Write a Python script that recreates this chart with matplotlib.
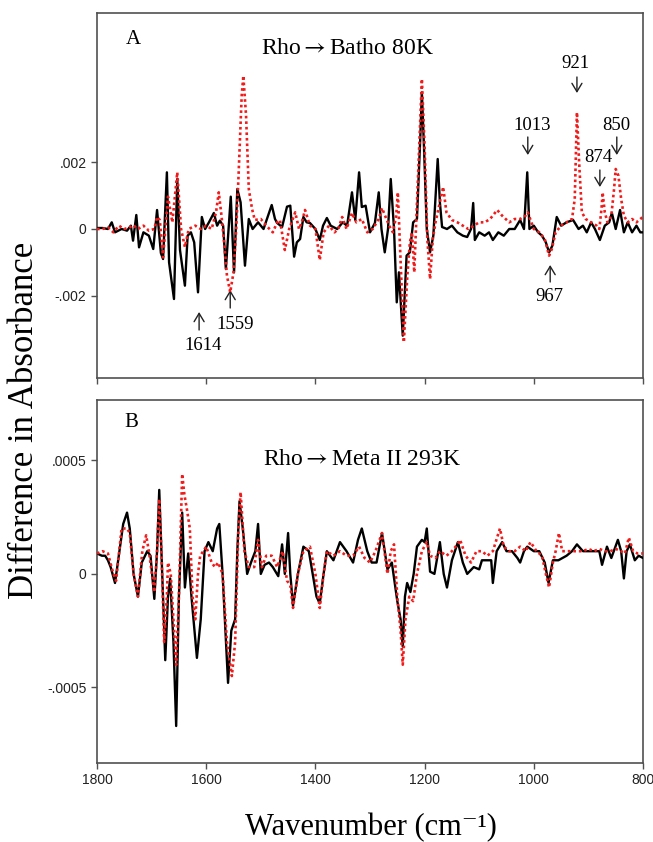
import matplotlib
matplotlib.use("Agg")
import matplotlib.pyplot as plt

plt.rcParams["mathtext.fontset"] = "stix"

# ---------------- Data ----------------
A_black_wn = [1800,1790,1780,1773,1767,1755,1745,1738,1734,1728,1723,1715,1705,1697,1690,1683,1679,1672,1668,1659,
              1653,1648,1639,1634,1628,1622,1615,1608,1602,1595,1586,1580,1575,1569,1564,1555,1549,1543,1537,1529,
              1522,1515,1505,1495,1480,1474,1470,1461,1452,1446,1439,1434,1428,1422,1416,1410,1400,1392,1386,1379,
              1372,1360,1350,1342,1333,1327,1320,1315,1308,1300,1291,1284,1279,1273,1267,1262,1256,1251,1247,1240,
              1233,1227,1221,1214,1208,1205,1201,1196,1190,1184,1176,1172,1168,1159,1150,1140,1130,1122,1115,1111,
              1108,1100,1090,1082,1075,1065,1055,1045,1035,1025,1018,1012,1008,1000,992,985,978,972,966,958,
              950,940,928,918,910,903,895,888,879,870,862,857,850,842,835,828,820,812,805,800]
A_black_val = [0.00003,0.00003,0.0,0.0002,-0.0001,0.0,-0.00005,0.0001,-0.00035,0.00042,-0.00055,-0.0001,-0.0002,-0.0006,0.00057,-0.00072,-0.0009,0.0017,-0.001,-0.0021,
               0.0015,-0.00063,-0.0017,-0.0002,-0.0001,-0.0004,-0.0019,0.00036,0.0,0.0002,0.00048,0.0001,0.00025,0.0001,-0.0012,0.00097,-0.0013,0.0012,0.0008,-0.0011,
               0.0003,0.0,0.0002,0.0,0.00072,0.0003,0.00018,0.00006,0.00067,0.0007,-0.00083,-0.0004,-0.0003,0.00036,0.0002,0.00018,0.0,-0.00033,0.0001,0.00033,
               0.0001,0.0,0.0002,0.0001,0.0011,0.00027,0.0017,0.00066,0.0007,-0.0001,0.00018,0.0011,0.0,-0.0007,0.0,0.0015,0.0,-0.0022,-0.0013,-0.0032,
               -0.0008,-0.0007,0.0002,0.0003,0.0027,0.0041,0.0024,0.0,-0.0007,-0.0002,0.0021,0.0008,0.00006,0.0,0.0001,-0.0001,-0.0002,-0.00024,0.0,0.00078,
               -0.00033,-0.0001,-0.0002,-0.0001,-0.00033,-0.0001,-0.0002,0.0,0.0,0.00027,0.0,0.0017,0.0,0.0001,-0.0001,-0.0002,-0.0004,-0.0007,-0.0005,0.00036,
               0.0001,0.0002,0.00027,0.0,0.0001,-0.0001,0.0002,0.0,-0.00033,0.0001,0.0002,0.00048,0.0,0.00057,-0.0001,0.0002,-0.0001,0.0001,-0.0001,-0.0001]

A_red_wn = [1800,1790,1780,1770,1760,1750,1740,1734,1725,1715,1705,1695,1690,1685,1679,1670,1662,1653,1646,1639,
            1632,1620,1610,1600,1590,1582,1577,1572,1566,1562,1556,1550,1545,1541,1535,1532,1527,1522,1516,1511,
            1500,1490,1478,1470,1465,1456,1448,1437,1430,1425,1419,1410,1400,1392,1385,1375,1365,1358,1351,1343,
            1333,1325,1315,1305,1295,1284,1278,1270,1262,1258,1252,1249,1243,1238,1232,1227,1223,1219,1214,1210,
            1205,1200,1195,1190,1185,1180,1172,1166,1160,1150,1140,1130,1120,1110,1100,1090,1080,1067,1058,1045,
            1035,1025,1015,1011,1000,990,980,972,967,960,950,940,930,925,921,917,912,905,895,885,
            880,876,874,870,865,858,853,850,845,840,835,828,820,812,805,800]
A_red_val = [0.0,0.0,0.00005,-0.0001,0.0001,0.0,0.00005,0.00012,0.0,0.0001,-0.00005,0.0,0.00036,0.00027,-0.00085,0.00097,0.0002,0.0017,0.0,-0.00054,
             0.0,0.0001,0.0,0.0001,0.0,0.0005,0.0011,0.0004,-0.0006,-0.0014,-0.0019,-0.0013,0.0,0.0015,0.0040,0.0046,0.0034,0.0012,0.0006,0.00027,
             0.0003,0.0001,-0.0001,0.0002,0.00027,-0.00063,0.0,0.0005,0.0,0.0002,0.00057,0.0001,0.0,-0.00093,-0.0001,0.0001,-0.0001,0.0,0.00036,0.0,
             0.00048,0.0002,0.0003,-0.0001,0.0,0.0003,0.00063,0.0003,0.0,-0.0001,0.0004,0.0011,-0.0014,-0.0034,-0.0015,-0.0004,-0.0001,-0.0013,0.0008,0.0025,
             0.0045,0.0025,-0.0003,-0.0015,-0.0003,0.0002,0.0008,0.00126,0.0005,0.00027,0.0002,0.0001,0.0,0.0001,0.0002,0.0002,0.0003,0.00057,0.0004,0.0002,
             0.0003,0.0003,0.0004,0.0005,0.0,-0.0001,-0.0003,-0.0008,-0.0006,-0.0001,0.0001,0.0002,0.0003,0.0009,0.0035,0.002,0.0005,0.0003,0.0002,0.0001,
             0.0,0.0006,0.0011,0.0005,0.0002,0.0004,0.0012,0.0018,0.0016,0.0009,0.0004,0.0002,0.0003,0.0002,0.0003,0.00036]

B_black_wn = [1800,1791,1785,1780,1775,1767,1760,1752,1745,1740,1733,1725,1718,1708,1702,1695,1690,1686,1682,1675,
              1670,1666,1660,1655,1650,1644,1639,1633,1627,1617,1610,1603,1596,1588,1580,1576,1570,1560,1554,1547,
              1543,1539,1533,1525,1518,1510,1505,1500,1493,1485,1478,1468,1461,1456,1450,1446,1441,1432,1422,1412,
              1405,1398,1392,1385,1379,1367,1355,1343,1331,1322,1315,1305,1297,1288,1278,1268,1260,1250,1244,1240,
              1236,1232,1226,1220,1214,1205,1200,1196,1190,1182,1172,1165,1159,1150,1139,1130,1122,1110,1100,1095,
              1085,1078,1075,1068,1058,1050,1040,1030,1025,1018,1012,1000,990,980,973,965,955,940,930,921,
              910,900,890,880,875,866,858,846,840,835,830,824,815,808,800]
B_black_val = [0.00009,0.00008,0.00008,0.00006,0.00003,-0.00004,0.00008,0.00022,0.00027,0.0002,0.0,-0.0001,0.00005,0.0001,0.00008,-0.00011,0.0001,0.00037,0.0001,-0.00038,
               -0.0001,-0.00002,-0.0003,-0.00067,-0.0001,0.00027,-0.00006,0.00009,-0.0001,-0.00037,-0.0002,0.0001,0.00014,0.0001,0.0002,0.00022,0.0,-0.00048,-0.00025,-0.0002,
               0.0001,0.00032,0.0002,0.0,0.00005,0.0001,0.00022,0.0,0.00004,0.00005,0.00003,-0.00001,0.00013,0.0,0.00018,0.0,-0.00014,0.0,0.00012,0.0001,
               0.0,-0.0001,-0.00013,0.0,0.0001,0.00006,0.00014,0.0001,0.00005,0.00015,0.0002,0.0001,0.00005,0.00005,0.00018,0.00002,0.00005,-0.00012,-0.0002,-0.00032,
               -0.0001,-0.00004,-0.00008,0.0,0.00012,0.00015,0.00014,0.0002,0.00001,0.0,0.00014,0.0,-0.00006,0.00006,0.00014,0.00005,0.0,0.00003,0.00002,0.00006,
               0.00006,0.00006,-0.00004,0.0001,0.00014,0.0001,0.0001,0.00007,0.00005,0.0001,0.00012,0.0001,0.0001,0.00005,-0.00004,0.00006,0.00006,0.00008,0.0001,0.00013,
               0.0001,0.0001,0.0001,0.0001,0.00004,0.00012,0.00007,0.00015,0.0001,-0.00002,0.0001,0.00013,0.00006,0.00008,0.00007]

B_red_wn = [1800,1790,1780,1770,1765,1755,1745,1740,1733,1725,1717,1710,1705,1695,1690,1686,1682,1677,1672,1670,
            1665,1660,1655,1650,1644,1640,1635,1630,1625,1620,1615,1611,1600,1590,1584,1578,1570,1562,1553,1547,
            1541,1537,1530,1522,1512,1505,1498,1490,1480,1470,1460,1452,1446,1441,1432,1422,1410,1400,1392,1385,
            1379,1367,1355,1343,1331,1320,1310,1300,1290,1278,1268,1262,1256,1250,1244,1240,1235,1228,1221,1214,
            1205,1196,1190,1180,1172,1160,1150,1140,1135,1125,1115,1105,1095,1085,1075,1062,1055,1045,1035,1025,
            1015,1006,995,985,978,972,965,960,954,948,940,930,920,910,900,890,880,870,860,850,
            840,833,826,818,810,800]
B_red_val = [0.00009,0.0001,0.00009,0.0,-0.00003,0.0002,0.0002,0.00018,0.0,-0.0001,0.0001,0.00017,0.0001,-0.00008,0.0001,0.00033,0.0001,-0.0003,-0.0001,0.00005,
             0.0,-0.0002,-0.0004,-0.0001,0.00044,0.00035,0.00028,0.0002,-0.0001,-0.0002,0.0,0.00008,0.00012,0.00005,0.00003,0.00005,0.0,-0.0003,-0.00045,-0.0003,
             0.0002,0.00036,0.0001,0.00003,0.00003,0.00015,0.00003,0.00008,0.00008,0.00003,0.0001,-0.00003,-0.00005,-0.00015,0.0,0.0001,0.00012,0.0,-0.00015,0.0,
             0.0001,0.00008,0.0001,0.00008,0.00008,0.00012,0.00007,0.00005,0.0001,0.00018,0.0,0.0001,0.00013,-0.0001,-0.00025,-0.0004,-0.0002,-0.0001,-0.00012,0.0,
             0.0001,0.00014,0.00008,0.00007,0.0001,0.00008,0.0001,0.00013,0.00015,0.00008,0.00005,0.0001,0.0001,0.00008,0.0001,0.0002,0.00012,0.0001,0.0001,0.00012,
             0.0001,0.00014,0.0001,0.00008,0.0,-0.00006,0.00005,0.0001,0.00018,0.0001,0.0001,0.0001,0.0001,0.0001,0.00011,0.0001,0.00011,0.0001,0.0001,0.00011,
             0.0001,0.00009,0.00016,0.0001,0.00009,0.00009]

x_ticks = [1800, 1600, 1400, 1200, 1000, 800]
x_ticklabels = ["1800", "1600", "1400", "1200", "1000", "800"]
A_yticks = [0.002, 0.0, -0.002]
A_yticklabels = [".002", "0", "-.002"]
B_yticks = [0.0005, 0.0, -0.0005]
B_yticklabels = [".0005", "0", "-.0005"]

# peak labels: (label, text wavenumber, text value)
mark_labels = ["1614", "1559", "967", "1013", "921", "874", "850"]
mark_text_wn = [1606, 1547, 972, 1003, 923, 881, 849]
mark_text_val = [-0.00348, -0.00287, -0.00203, 0.00312, 0.00495, 0.00216, 0.00309]
# arrows: (wavenumber, tail value, tip value)
arrow_wn = [1613, 1556, 970, 1011, 921, 879, 848]
arrow_tail = [-0.00303, -0.00237, -0.00159, 0.00276, 0.00456, 0.00177, 0.00276]
arrow_tip = [-0.00249, -0.00183, -0.00108, 0.00222, 0.00408, 0.00126, 0.00222]

# ---------------- Styling ----------------
serif = ["Liberation Serif", "DejaVu Serif"]
sans = ["Liberation Sans", "DejaVu Sans"]
spine_c = "#505050"
red_c = "#f01c1c"

fig = plt.figure(figsize=(6.53, 8.42), dpi=100)
axA = fig.add_axes([97/653, 1-378/842, 546/653, 365/842])
axB = fig.add_axes([97/653, 1-763/842, 546/653, 363/842])

def style(ax):
    for s in ax.spines.values():
        s.set_color(spine_c)
        s.set_linewidth(1.2)
    ax.tick_params(direction="out", length=4, width=1, color=spine_c,
                   labelsize=10, labelcolor="#222222")
    ax.set_xlim(1800, 800)
    for lab in ax.get_xticklabels() + ax.get_yticklabels():
        lab.set_fontfamily(sans)

axA.plot(A_black_wn, A_black_val, color="black", lw=1.7, zorder=3)
axA.plot(A_red_wn, A_red_val, color=red_c, lw=1.9, ls=(0, (1, 1.1)), zorder=4)
axA.set_ylim(-0.00447, 0.00648)
axA.set_xticks(x_ticks)
axA.set_xticklabels([])
axA.set_yticks(A_yticks)
axA.set_yticklabels(A_yticklabels)
style(axA)

axB.plot(B_black_wn, B_black_val, color="black", lw=1.7, zorder=3)
axB.plot(B_red_wn, B_red_val, color=red_c, lw=1.9, ls=(0, (1, 1.1)), zorder=4)
axB.set_ylim(-0.000833, 0.000766)
axB.set_xticks(x_ticks)
axB.set_xticklabels(x_ticklabels)
axB.set_yticks(B_yticks)
axB.set_yticklabels(B_yticklabels)
style(axB)

axA.text(0.052, 0.928, "A", transform=axA.transAxes, fontsize=15, family=serif, va="center", ha="left")
axA.text(0.458, 0.904, "Rho$\\rightarrow$Batho 80K", transform=axA.transAxes, fontsize=17, family=serif,
         va="center", ha="center")
axB.text(0.051, 0.939, "B", transform=axB.transAxes, fontsize=15, family=serif, va="center", ha="left")
axB.text(0.485, 0.835, "Rho$\\rightarrow$Meta II 293K", transform=axB.transAxes, fontsize=17, family=serif,
         va="center", ha="center")

for lab, xw, yv in zip(mark_labels, mark_text_wn, mark_text_val):
    axA.text(xw, yv, lab, fontsize=13.5, family=serif, ha="center", va="center")

for xw, yt, yh in zip(arrow_wn, arrow_tail, arrow_tip):
    axA.annotate("", xy=(xw, yh), xytext=(xw, yt),
                 arrowprops=dict(arrowstyle="->,head_length=0.3,head_width=0.18", lw=1.0,
                                 color="#222222", shrinkA=0, shrinkB=0, mutation_scale=20))

fig.text(25/653, 1-420/842, "Difference in Absorbance", rotation=90, fontsize=25, family=serif,
         ha="center", va="center")
fig.text(371/653, 1-828/842, "Wavenumber (cm\u207b\u00b9)", fontsize=22, family=serif,
         ha="center", va="center")

fig.savefig("out.png", dpi=100)
